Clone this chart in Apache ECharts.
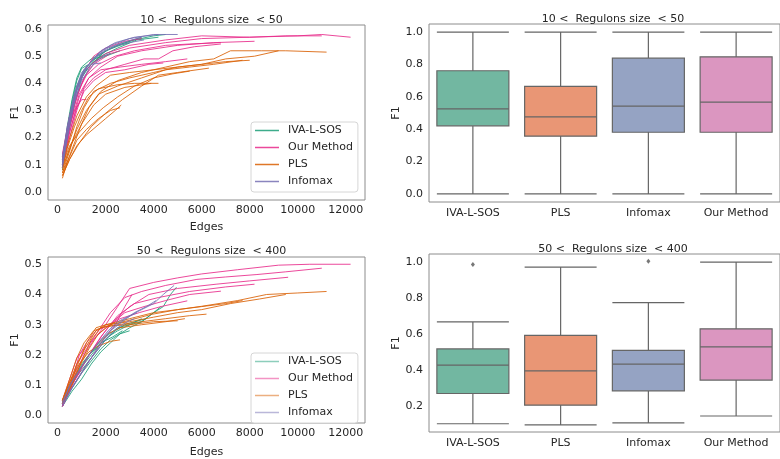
<!DOCTYPE html>
<html><head><meta charset="utf-8">
<script src="https://cdn.jsdelivr.net/npm/echarts@6/dist/echarts.min.js"></script>
<style>html,body{margin:0;padding:0;background:#fff}#c{width:780px;height:459px}</style>
</head><body><div id="c"></div>
<script>
// ---------- data ----------
const methods = ['IVA-L-SOS', 'Our Method', 'PLS', 'Infomax'];
const lineColors = ['#1b9e77', '#e7298a', '#d95f02', '#7570b3'];
const edgeTicks = [0, 2000, 4000, 6000, 8000, 10000, 12000];
const f1TicksTopLeft = [0, 0.1, 0.2, 0.3, 0.4, 0.5, 0.6];
const f1TicksBottomLeft = [0, 0.1, 0.2, 0.3, 0.4, 0.5];
const f1TicksTopRight = [0, 0.2, 0.4, 0.6, 0.8, 1.0];
const f1TicksBottomRight = [0.2, 0.4, 0.6, 0.8, 1.0];
const titleTop = '10 <  Regulons size  < 50';
const titleBottom = '50 <  Regulons size  < 400';

// top-left: 10 < size < 50, curves [edges, F1]
const tlIVA = [
  [[200,0.09],[400,0.22],[600,0.33],[800,0.41],[1000,0.455],[1300,0.47],[1700,0.5],[2200,0.53],[2800,0.55],[3500,0.57]],
  [[200,0.11],[400,0.24],[600,0.34],[800,0.42],[1000,0.46],[1400,0.49],[1800,0.51],[2500,0.54],[3200,0.56],[4000,0.575],[4500,0.58]],
  [[200,0.1],[400,0.2],[700,0.35],[1000,0.43],[1400,0.47],[2000,0.52],[2600,0.54],[3000,0.55]],
  [[200,0.12],[500,0.28],[800,0.39],[1100,0.45],[1500,0.49],[1900,0.5],[2200,0.51]],
  [[200,0.08],[400,0.19],[700,0.32],[1000,0.42],[1300,0.46],[1800,0.5],[2500,0.53],[3300,0.56],[4200,0.57]],
  [[200,0.13],[500,0.27],[800,0.38],[1100,0.44],[1500,0.48],[2000,0.5],[2600,0.52]]
];
const tlOur = [
  [[200,0.1],[400,0.2],[700,0.32],[1000,0.4],[1400,0.47],[2000,0.51],[3000,0.54],[4500,0.56],[6000,0.575],[8000,0.57],[10000,0.575],[11000,0.58],[12200,0.57]],
  [[200,0.12],[500,0.25],[800,0.35],[1100,0.42],[1500,0.47],[2200,0.51],[3000,0.53],[4500,0.55],[6000,0.565],[8000,0.57],[9500,0.575],[11000,0.575]],
  [[200,0.1],[500,0.22],[900,0.35],[1300,0.42],[1800,0.46],[2500,0.5],[3500,0.52],[5000,0.54],[6500,0.55],[8200,0.555]],
  [[200,0.13],[500,0.26],[800,0.36],[1200,0.43],[1700,0.47],[2400,0.5],[3200,0.52],[4500,0.54],[5500,0.545],[6800,0.55]],
  [[200,0.09],[500,0.2],[800,0.3],[1100,0.38],[1500,0.42],[2000,0.45],[2800,0.47],[3600,0.49],[4200,0.49],[4800,0.52],[5700,0.535],[6800,0.545]],
  [[200,0.11],[500,0.24],[900,0.36],[1300,0.42],[1800,0.45],[2600,0.46],[3500,0.47],[4500,0.48],[5400,0.49]],
  [[200,0.1],[500,0.22],[800,0.31],[1100,0.37],[1500,0.41],[2000,0.44],[2800,0.45],[3800,0.47],[4400,0.475]],
  [[200,0.14],[500,0.28],[800,0.38],[1100,0.44],[1500,0.5],[2000,0.53],[2800,0.555],[3500,0.565]],
  [[200,0.12],[400,0.22],[700,0.3],[1000,0.34],[1200,0.34]]
];
const tlPLS = [
  [[200,0.05],[400,0.11],[700,0.18],[1000,0.25],[1300,0.31],[1800,0.37],[2500,0.41],[3500,0.44],[4500,0.46],[5500,0.48],[6500,0.49],[7200,0.52],[8500,0.52],[9500,0.52],[11200,0.515]],
  [[200,0.07],[500,0.15],[800,0.24],[1100,0.31],[1500,0.37],[2200,0.4],[3000,0.42],[4000,0.44],[5000,0.46],[6000,0.47],[7000,0.49],[8200,0.5],[9200,0.52]],
  [[200,0.08],[500,0.16],[800,0.23],[1200,0.3],[1700,0.36],[2500,0.39],[3500,0.42],[4500,0.45],[5500,0.46],[6500,0.47],[7700,0.485]],
  [[200,0.06],[500,0.12],[900,0.18],[1400,0.24],[2000,0.29],[2700,0.34],[3500,0.39],[4200,0.43],[5000,0.44],[6300,0.456]],
  [[200,0.09],[600,0.18],[1000,0.25],[1500,0.32],[2000,0.36],[2800,0.385],[3900,0.40]],
  [[200,0.1],[500,0.17],[900,0.22],[1400,0.27],[1900,0.31],[2500,0.35],[3200,0.39],[4000,0.42],[4800,0.435],[5500,0.445]],
  [[200,0.06],[500,0.12],[800,0.17],[1200,0.21],[1600,0.24],[2000,0.27],[2400,0.3],[2650,0.32]],
  [[200,0.11],[500,0.2],[800,0.28],[1200,0.35],[1600,0.39],[2200,0.43],[3000,0.44],[4000,0.45],[5000,0.46],[6000,0.47],[7000,0.48],[8000,0.485]],
  [[200,0.09],[400,0.16],[700,0.24],[1000,0.3],[1300,0.35],[1700,0.38],[2500,0.395],[3200,0.4],[4200,0.40]],
  [[200,0.07],[500,0.13],[800,0.19],[1200,0.23],[1700,0.27],[2200,0.3],[2600,0.31]]
];
const tlInfomax = [
  [[200,0.1],[400,0.23],[700,0.35],[1000,0.43],[1300,0.47],[1700,0.51],[2200,0.54],[3000,0.565],[4000,0.58],[5000,0.58]],
  [[200,0.12],[400,0.24],[700,0.36],[1000,0.44],[1400,0.48],[1800,0.52],[2400,0.55],[3200,0.57],[4200,0.58]],
  [[200,0.09],[500,0.25],[800,0.37],[1100,0.44],[1400,0.47],[1800,0.475]],
  [[200,0.11],[500,0.26],[800,0.38],[1200,0.46],[1600,0.5],[2100,0.53],[2700,0.55],[3500,0.57]],
  [[200,0.13],[500,0.28],[800,0.39],[1100,0.45],[1500,0.49],[2000,0.52],[2500,0.54],[3000,0.55],[3600,0.56]],
  [[200,0.1],[400,0.2],[700,0.33],[1000,0.41],[1300,0.45],[1600,0.48],[1900,0.5],[2200,0.51]]
];

// bottom-left: 50 < size < 400
const blIVA = [
  [[200,0.03],[600,0.08],[1000,0.12],[1400,0.17],[1800,0.21],[2200,0.24],[2600,0.27],[3000,0.29],[3500,0.31],[4000,0.34],[4400,0.36],[4700,0.4],[4950,0.424]],
  [[200,0.035],[600,0.09],[1000,0.14],[1400,0.18],[1800,0.22],[2200,0.25],[2600,0.27],[3000,0.28]],
  [[200,0.04],[500,0.1],[900,0.15],[1300,0.2],[1700,0.23],[2100,0.26],[2500,0.28],[3000,0.3],[3500,0.32]],
  [[200,0.03],[600,0.1],[1000,0.16],[1400,0.2],[1800,0.24],[2300,0.26],[2700,0.28]],
  [[200,0.035],[500,0.09],[800,0.13],[1200,0.17],[1600,0.21],[2000,0.25],[2400,0.28],[2800,0.3],[3200,0.31],[3700,0.32]],
  [[200,0.04],[600,0.11],[1000,0.17],[1500,0.22],[2000,0.26],[2500,0.29],[3000,0.3],[3500,0.31],[4000,0.34],[4300,0.36]]
];
const blOur = [
  [[200,0.03],[500,0.08],[800,0.15],[1100,0.2],[1500,0.25],[2000,0.3],[2500,0.36],[3000,0.42],[4000,0.44],[5000,0.455],[6000,0.468],[7500,0.482],[9200,0.497],[10500,0.5],[12200,0.5]],
  [[200,0.04],[500,0.1],[800,0.17],[1200,0.22],[1700,0.28],[2200,0.34],[2800,0.39],[3500,0.41],[4500,0.43],[5800,0.45],[7000,0.458],[8300,0.466],[9500,0.475],[11000,0.487]],
  [[200,0.035],[500,0.09],[900,0.14],[1300,0.2],[1800,0.26],[2300,0.31],[3000,0.36],[3800,0.4],[5000,0.42],[6600,0.434],[8000,0.445],[9600,0.457]],
  [[200,0.03],[600,0.1],[1000,0.16],[1400,0.21],[1900,0.27],[2500,0.33],[3200,0.37],[4200,0.39],[5500,0.41],[7000,0.425],[8200,0.434]],
  [[200,0.04],[600,0.11],[900,0.2],[1200,0.24],[1600,0.28],[2200,0.3],[2800,0.34],[3600,0.36],[4500,0.38],[5500,0.4],[6800,0.411]],
  [[200,0.05],[500,0.12],[800,0.19],[1200,0.23],[1600,0.26],[2000,0.29],[2600,0.32],[3400,0.34],[4300,0.36],[5400,0.379]],
  [[200,0.03],[500,0.08],[900,0.13],[1400,0.19],[1900,0.25],[2400,0.3],[2800,0.36],[3100,0.4]]
];
const blPLS = [
  [[200,0.045],[500,0.1],[900,0.16],[1300,0.22],[1700,0.27],[2200,0.3],[3000,0.315],[3900,0.334],[5000,0.35],[6000,0.361],[7500,0.38],[8700,0.4],[10000,0.405],[11200,0.41]],
  [[200,0.05],[500,0.11],[800,0.17],[1200,0.23],[1600,0.28],[2000,0.3],[3000,0.31],[4000,0.325],[5000,0.34],[6000,0.35],[7200,0.37],[8400,0.385],[9500,0.4]],
  [[200,0.04],[600,0.1],[1000,0.18],[1400,0.25],[1800,0.29],[2500,0.3],[3500,0.31],[4500,0.32],[5500,0.33],[6200,0.335]],
  [[200,0.05],[500,0.12],[800,0.19],[1100,0.24],[1500,0.28],[2000,0.295],[3000,0.3],[4000,0.31],[5000,0.313]],
  [[200,0.04],[500,0.09],[900,0.15],[1300,0.2],[1700,0.24],[2100,0.27],[2600,0.29],[3500,0.3],[4500,0.31],[5300,0.32]],
  [[200,0.05],[500,0.11],[900,0.17],[1300,0.21],[1700,0.23],[2200,0.245],[2600,0.25]],
  [[200,0.045],[500,0.1],[800,0.16],[1200,0.24],[1600,0.29],[2000,0.3],[3000,0.32],[4000,0.34],[5000,0.35],[6000,0.36],[7000,0.37],[7700,0.38]]
];
const blInfomax = [
  [[200,0.04],[500,0.1],[900,0.15],[1300,0.2],[1700,0.24],[2100,0.28],[2500,0.31],[3000,0.33],[3500,0.35],[4000,0.37],[4400,0.4],[4850,0.43]],
  [[200,0.03],[600,0.09],[1000,0.14],[1400,0.19],[1800,0.24],[2200,0.28],[2700,0.31],[3200,0.34],[3700,0.36],[4100,0.38]],
  [[200,0.035],[500,0.08],[900,0.13],[1300,0.18],[1700,0.22],[2100,0.26],[2500,0.29],[2900,0.31],[3200,0.32]],
  [[200,0.045],[600,0.11],[1000,0.16],[1400,0.21],[1800,0.25],[2300,0.29],[2800,0.32],[3300,0.34]]
];

// box plots: [min, Q1, median, Q3, max]
const boxCategories = ['IVA-L-SOS', 'PLS', 'Infomax', 'Our Method'];
const boxColors = ['#72b7a1', '#e99675', '#95a3c3', '#db96c0'];
const boxTop = [
  [0.0, 0.421, 0.526, 0.761, 1.0],
  [0.0, 0.357, 0.476, 0.664, 1.0],
  [0.0, 0.381, 0.542, 0.839, 1.0],
  [0.0, 0.381, 0.567, 0.847, 1.0]
];
const boxBottom = [
  [0.101, 0.269, 0.427, 0.517, 0.668],
  [0.095, 0.204, 0.395, 0.592, 0.972],
  [0.106, 0.284, 0.432, 0.509, 0.775],
  [0.144, 0.344, 0.528, 0.629, 1.0]
];
const outliersBottom = [['IVA-L-SOS', 0.987], ['Infomax', 1.004]];

// ---------- chart ----------
const FONT = 'DejaVu Sans';
const TXT = '#262626';
const SPINE = '#8c8c8c';
const chart = echarts.init(document.getElementById('c'), null, {renderer: 'canvas'});

const grids = [
  {left: 48, top: 25, width: 317, height: 175},
  {left: 429, top: 24, width: 358, height: 178},
  {left: 48, top: 257, width: 317, height: 174},
  {left: 429, top: 254, width: 358, height: 178}
].map(g => Object.assign({show: true, borderColor: SPINE, borderWidth: 1, backgroundColor: 'transparent'}, g));

const lbl = {fontFamily: FONT, fontSize: 11, color: TXT};

function valueX(gi, gap) {
  return {
    type: 'value', gridIndex: gi, min: -400, max: 12800,
    name: 'Edges', nameLocation: 'middle', nameGap: gap,
    nameTextStyle: lbl,
    axisLine: {show: false}, axisTick: {show: false}, splitLine: {show: false},
    axisLabel: Object.assign({customValues: edgeTicks, margin: 5, formatter: v => String(v)}, lbl)
  };
}
function valueY(gi, min, max, ticks, gap) {
  return {
    type: 'value', gridIndex: gi, min: min, max: max,
    name: 'F1', nameLocation: 'middle', nameGap: gap,
    nameTextStyle: lbl,
    axisLine: {show: false}, axisTick: {show: false}, splitLine: {show: false},
    axisLabel: Object.assign({customValues: ticks, margin: 6, formatter: v => v.toFixed(1)}, lbl)
  };
}
function catX(gi) {
  return {
    type: 'category', gridIndex: gi, data: boxCategories, boundaryGap: true,
    axisLine: {show: false}, axisTick: {show: false}, splitLine: {show: false},
    axisLabel: Object.assign({margin: 6}, lbl)
  };
}

const series = [];
function addLines(groups, xi, yi) {
  groups.forEach((grp, m) => {
    grp.forEach(curve => {
      series.push({
        type: 'line', name: methods[m], xAxisIndex: xi, yAxisIndex: yi,
        data: curve, showSymbol: false, symbol: 'none', silent: true,
        color: lineColors[m],
        lineStyle: {width: 1, color: lineColors[m], opacity: 0.85}
      });
    });
  });
}
addLines([tlIVA, tlOur, tlPLS, tlInfomax], 0, 0);
addLines([blIVA, blOur, blPLS, blInfomax], 2, 2);

function boxSeries(vals, xi, yi) {
  return {
    type: 'boxplot', xAxisIndex: xi, yAxisIndex: yi, boxWidth: [72, 72], silent: true,
    data: vals.map((v, i) => ({value: v, itemStyle: {color: boxColors[i], borderColor: '#666666', borderWidth: 1.2}}))
  };
}
series.push(boxSeries(boxTop, 1, 1));
series.push(boxSeries(boxBottom, 3, 3));
series.push({
  type: 'scatter', xAxisIndex: 3, yAxisIndex: 3, symbol: 'diamond', symbolSize: [4, 5], silent: true,
  itemStyle: {color: '#555555'}, data: outliersBottom
});

function legend(top, opacity) {
  return {
    orient: 'vertical', left: 251, top: top, show: true,
    data: methods.map((n, i) => ({name: n, itemStyle: {color: lineColors[i], opacity: opacity}})),
    icon: 'rect', itemWidth: 24, itemHeight: 1.5, itemGap: 6,
    padding: [3, 5, 5, 4],
    backgroundColor: '#ffffff', borderColor: '#d6d6d6', borderWidth: 1, borderRadius: 3,
    textStyle: Object.assign({padding: [0, 0, 0, 4]}, lbl),
    selectedMode: false
  };
}

chart.setOption({
  animation: false,
  backgroundColor: '#ffffff',
  title: [
    {text: titleTop, left: 206.5, top: 10, textAlign: 'center', textStyle: Object.assign({fontWeight: 'normal'}, lbl)},
    {text: titleTop, left: 608, top: 9, textAlign: 'center', textStyle: Object.assign({fontWeight: 'normal'}, lbl)},
    {text: titleBottom, left: 206.5, top: 241, textAlign: 'center', textStyle: Object.assign({fontWeight: 'normal'}, lbl)},
    {text: titleBottom, left: 608, top: 239, textAlign: 'center', textStyle: Object.assign({fontWeight: 'normal'}, lbl)}
  ],
  grid: grids,
  xAxis: [valueX(0, 22), catX(1), valueX(2, 24), catX(3)],
  yAxis: [
    valueY(0, -0.03, 0.615, f1TicksTopLeft, 27),
    valueY(1, -0.05, 1.05, f1TicksTopRight, 24),
    valueY(2, -0.025, 0.524, f1TicksBottomLeft, 27),
    valueY(3, 0.055, 1.045, f1TicksBottomRight, 24)
  ],
  legend: [legend(122, 0.85), legend(353, 0.5)],
  series: series
});
</script></body></html>
